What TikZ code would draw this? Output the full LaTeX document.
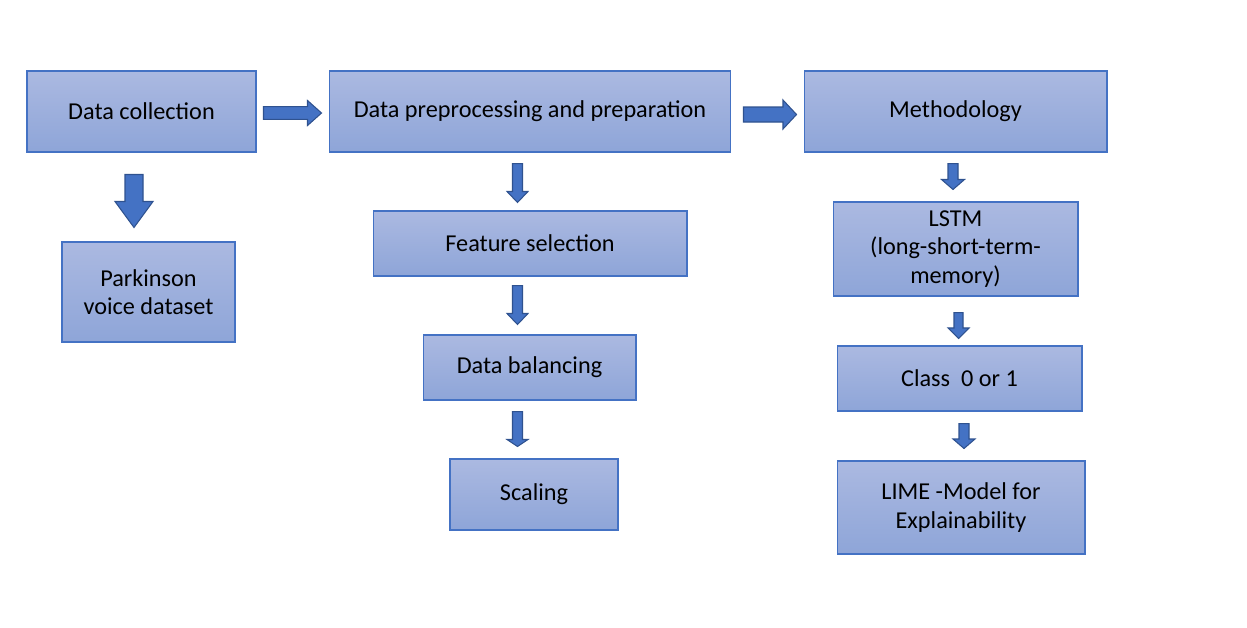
\documentclass[tikz,border=0pt]{standalone}
\usepackage{fontspec}
\setmainfont{Carlito}
\usetikzlibrary{calc}

\definecolor{boxtop}{RGB}{171,185,225}
\definecolor{boxbot}{RGB}{142,165,216}
\definecolor{boxline}{RGB}{68,114,196}
\definecolor{arrfill}{RGB}{68,114,196}
\definecolor{arrline}{RGB}{47,82,143}

% block arrow: from, to, shaft half width, head half width, head length
\newcommand{\flowarrow}[5]{%
	\coordinate (hb) at ($(#2)!#5!(#1)$);
	\draw[blockarr] ($(#1)!#3!90:(#2)$) -- ($(hb)!#3!90:(#2)$) -- ($(hb)!#4!90:(#2)$) -- (#2)
		-- ($(hb)!#4!-90:(#2)$) -- ($(hb)!#3!-90:(#2)$) -- ($(#1)!#3!-90:(#2)$) -- cycle;
}

\begin{document}
\begin{tikzpicture}[x=0.02cm, y=-0.02cm,
	stagebox/.style={draw=boxline, line width=0.6pt, top color=boxtop, bottom color=boxbot,
		align=center, inner sep=2pt, font=\fontsize{13.8}{16}\selectfont},
	blockarr/.style={fill=arrfill, draw=arrline, line width=0.6pt, line join=miter}]
	\useasboundingbox (0,0) rectangle (1247,627);

	% top row
	\node[stagebox, minimum width=4.58cm, minimum height=1.62cm] (collect) at (141.5,111.5) {Data collection};
	\node[stagebox, minimum width=8.04cm, minimum height=1.62cm] (prep) at (530,111.5) {Data preprocessing and preparation};
	\node[stagebox, minimum width=6.06cm, minimum height=1.62cm] (method) at (955.5,111.5) {Methodology};

	% left column
	\node[stagebox, minimum width=3.46cm, minimum height=2.0cm] (parkinson) at (148.5,292) {Parkinson\\voice dataset};

	% middle column
	\node[stagebox, minimum width=6.28cm, minimum height=1.30cm] (featsel) at (530,243.5) {Feature selection};
	\node[stagebox, minimum width=4.26cm, minimum height=1.30cm] (balance) at (529.5,367.5) {Data balancing};
	\node[stagebox, minimum width=3.36cm, minimum height=1.42cm] (scaling) at (534,494.5) {Scaling};

	% right column
	\node[stagebox, minimum width=4.90cm, minimum height=1.88cm] (lstm) at (955.5,249) {LSTM\\(long-short-term-\\memory)};
	\node[stagebox, minimum width=4.90cm, minimum height=1.30cm] (class) at (959.5,378.5) {Class\ \ 0 or 1};
	\node[stagebox, minimum width=4.96cm, minimum height=1.86cm] (lime) at (961,507.5) {LIME -Model for\\Explainability};

	% arrow ends
	\coordinate (a1s) at ([xshift=0.14cm, yshift=-0.03cm]collect.east);
	\coordinate (a1t) at ([xshift=-0.14cm, yshift=-0.03cm]prep.west);
	\coordinate (a2s) at ([xshift=0.24cm, yshift=-0.06cm]prep.east);
	\coordinate (a2t) at ([xshift=-0.14cm, yshift=-0.06cm]method.west);
	\coordinate (a3s) at ([xshift=-0.15cm, yshift=-0.44cm]collect.south);
	\coordinate (a3t) at ([xshift=-0.29cm, yshift=0.28cm]parkinson.north);
	\coordinate (a4s) at ([xshift=-0.25cm, yshift=-0.22cm]prep.south);
	\coordinate (a4t) at ([xshift=-0.25cm, yshift=0.16cm]featsel.north);
	\coordinate (a5s) at ([xshift=-0.25cm, yshift=-0.18cm]featsel.south);
	\coordinate (a5t) at ([xshift=-0.24cm, yshift=0.20cm]balance.north);
	\coordinate (a6s) at ([xshift=-0.24cm, yshift=-0.22cm]balance.south);
	\coordinate (a6t) at ([xshift=-0.33cm, yshift=0.24cm]scaling.north);
	\coordinate (a7s) at ([xshift=-0.05cm, yshift=-0.22cm]method.south);
	\coordinate (a7t) at ([xshift=-0.05cm, yshift=0.24cm]lstm.north);
	\coordinate (a8s) at ([xshift=0.06cm, yshift=-0.32cm]lstm.south);
	\coordinate (a8t) at ([xshift=-0.02cm, yshift=0.14cm]class.north);
	\coordinate (a9s) at ([xshift=0.09cm, yshift=-0.24cm]class.south);
	\coordinate (a9t) at ([xshift=0.06cm, yshift=0.24cm]lime.north);

	% block arrows
	\flowarrow{a1s}{a1t}{0.126cm}{0.25cm}{0.28cm}
	\flowarrow{a2s}{a2t}{0.15cm}{0.29cm}{0.27cm}
	\flowarrow{a3s}{a3t}{0.18cm}{0.38cm}{0.52cm}
	\flowarrow{a4s}{a4t}{0.10cm}{0.21cm}{0.22cm}
	\flowarrow{a5s}{a5t}{0.10cm}{0.21cm}{0.22cm}
	\flowarrow{a6s}{a6t}{0.10cm}{0.21cm}{0.14cm}
	\flowarrow{a7s}{a7t}{0.10cm}{0.23cm}{0.20cm}
	\flowarrow{a8s}{a8t}{0.09cm}{0.21cm}{0.21cm}
	\flowarrow{a9s}{a9t}{0.10cm}{0.22cm}{0.19cm}
\end{tikzpicture}
\end{document}
